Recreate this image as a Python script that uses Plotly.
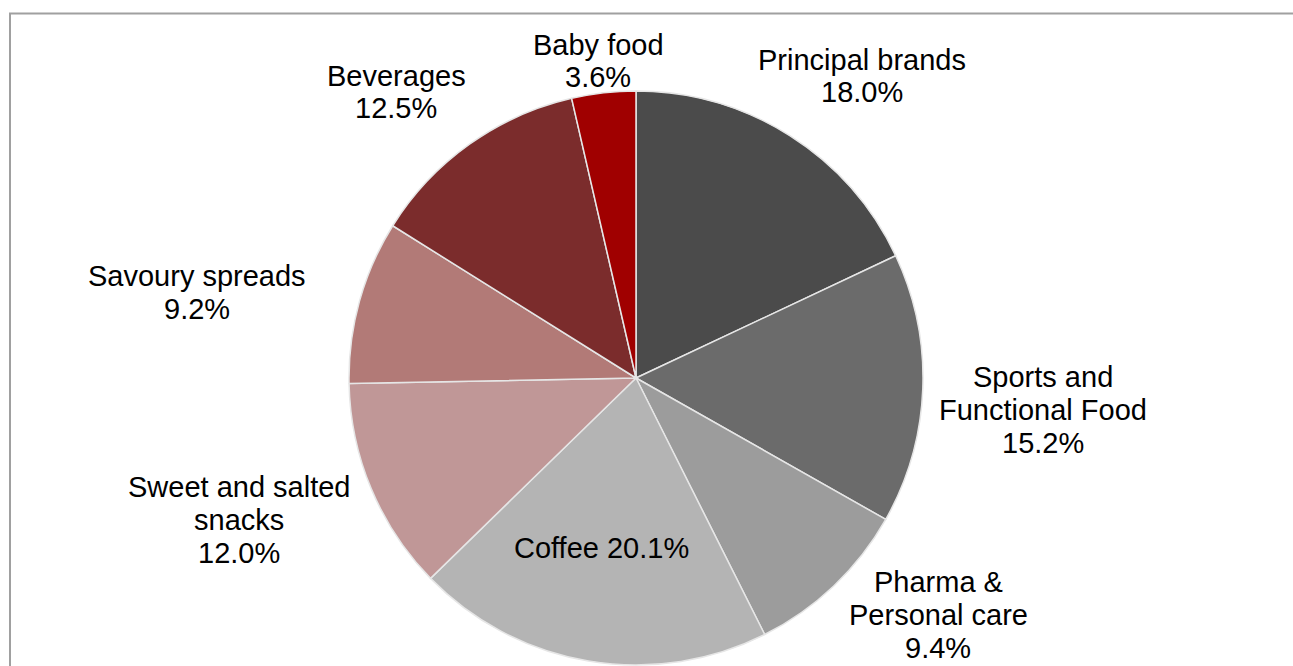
import plotly.graph_objects as go

# Data
labels = ["Principal brands", "Sports and Functional Food", "Pharma & Personal care",
          "Coffee", "Sweet and salted snacks", "Savoury spreads", "Beverages", "Baby food"]
values = [18.0, 15.2, 9.4, 20.1, 12.0, 9.2, 12.5, 3.6]
# label line layout (text lines, last line is the percentage unless inline)
label_lines = [["Principal brands"], ["Sports and", "Functional Food"], ["Pharma &", "Personal care"],
               [], ["Sweet and salted", "snacks"], ["Savoury spreads"], ["Beverages"], ["Baby food"]]

# Styles / positions
colors = ["#4b4b4b", "#6b6b6b", "#9c9c9c", "#b4b4b4", "#c09797", "#b27a77", "#7b2c2c", "#a00000"]
label_pos = [(862, 76), (1043, 410), (938, 615), (601, 548), (239, 520), (197, 292), (396, 92), (598, 61)]
W, H = 1293, 666
LINE = 33
FONT = dict(family="Liberation Sans, Arial, sans-serif", size=29, color="#000000")

cx, cy, r = 636, 378, 287

fig = go.Figure(go.Pie(
    labels=labels, values=values, sort=False, direction="clockwise", rotation=0,
    marker=dict(colors=colors, line=dict(color="#e6e6e6", width=1.5)),
    textinfo="none", hoverinfo="label+percent",
    domain=dict(x=[(cx - r) / W, (cx + r) / W], y=[1 - (cy + r) / H, 1 - (cy - r) / H]),
))

annotations = []
for lab_lines, val, (px, py) in zip(label_lines, values, label_pos):
    if lab_lines:
        lines = lab_lines + [f"{val:.1f}%"]
    else:
        lines = [f"Coffee {val:.1f}%"]
    n = len(lines)
    for i, t in enumerate(lines):
        y = py + (i - (n - 1) / 2) * LINE
        annotations.append(dict(x=px / W, y=1 - y / H, xref="paper", yref="paper",
                                text=t, showarrow=False, font=FONT,
                                xanchor="center", yanchor="middle"))

fig.update_layout(
    width=W, height=H, margin=dict(l=0, r=0, t=0, b=0),
    paper_bgcolor="white", plot_bgcolor="white", showlegend=False,
    annotations=annotations,
    shapes=[dict(type="rect", xref="paper", yref="paper",
                 x0=10 / W, x1=1.02, y0=-0.02, y1=1 - 13.5 / H,
                 line=dict(color="#a0a0a0", width=2), fillcolor="rgba(0,0,0,0)", layer="above")],
)

fig.write_html("out.html")
